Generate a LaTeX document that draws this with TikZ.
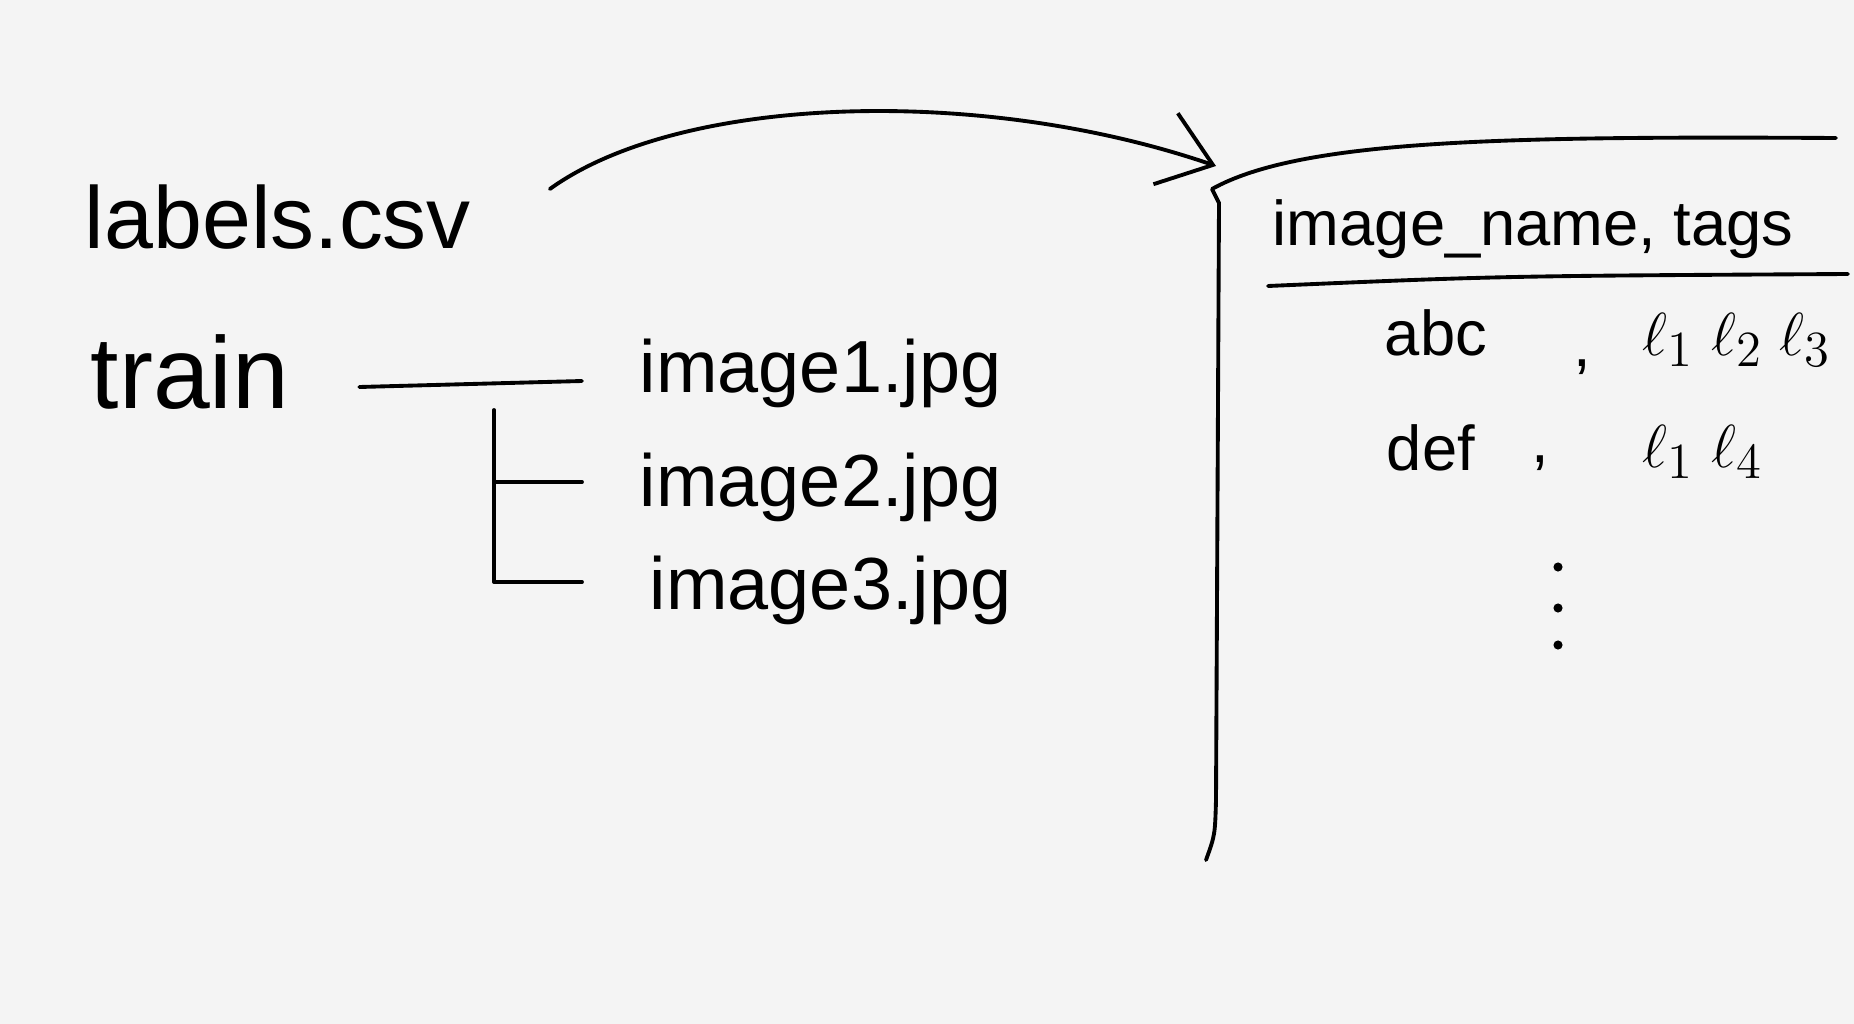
\documentclass[tikz,border=0pt]{standalone}
\usepackage{fontspec}
\setmainfont{Liberation Sans}
\usepackage{xcolor}
\usetikzlibrary{arrows.meta,calc}
\definecolor{paper}{RGB}{244,244,244}

\begin{document}
\begin{tikzpicture}[x=0.01cm, y=-0.01cm, line width=1.1pt, line cap=round, line join=round,
    txt/.style={inner sep=0pt, anchor=base west},
    big/.style={txt, font=\fontsize{25}{29}\selectfont},
    file/.style={txt, font=\fontsize{21}{25}\selectfont},
    cell/.style={txt, font=\fontsize{18}{22}\selectfont},
    tagcell/.style={txt, font=\fontsize{19}{23}\selectfont},
    flow/.style={-{Straight Barb[length=5mm,width=7.5mm]}}]
    \fill[paper] (0,0) rectangle (1854,1024);
    \useasboundingbox (0,0) rectangle (1854,1024);
    % folder side
    \node[big] (labels) at (83,248) {labels.csv};
    \node[big, font=\fontsize{29}{33}\selectfont] (train) at (89,408) {train};
    \node[file] (img1) at (638,392) {image1.jpg};
    \node[file] (img2) at (638,506) {image2.jpg};
    \node[file] (img3) at (648,609) {image3.jpg};
    \coordinate (fork) at (494,410);
    \draw ($(train.base east)+(68,-21)$) -- ($(img1.base west)+(-56,-11)$);
    \draw (fork) |- ($(img3.base west)+(-66,-27)$);
    \draw ($(fork |- img2.base west)+(0,-24)$) -- ($(img2.base west)+(-56,-24)$);
    % csv contents
    \coordinate (corner) at (1216,166);
    \draw[flow] ($(labels.base east)+(77,-59)$) .. controls (680,95) and (980,85) .. (corner);
    \draw (1836,138) .. controls (1500,136) and (1300,140) .. (1212,189) -- (1219,203)
        -- (1216,800) .. controls (1215,835) .. (1206,860);
    \node[cell] (head) at (1271,245) {image\_name, tags};
    \draw (1268,286) .. controls (1500,276) .. (1848,274);
    \node[cell] (abc) at (1383,355) {abc};
    \node[cell, anchor=base] (comma1) at (1582,366) {,};
    \node[tagcell] (tags1) at (1641,355) {$\ell_1\;\ell_2\;\ell_3$};
    \node[cell] (def) at (1385,470) {def};
    \node[cell, anchor=base] (comma2) at (1540,462) {,};
    \node[tagcell] (tags2) at (1641,467) {$\ell_1\;\ell_4$};
    \foreach \y in {567,608,645} \fill (1558,\y) circle (1.3pt);
\end{tikzpicture}
\end{document}
